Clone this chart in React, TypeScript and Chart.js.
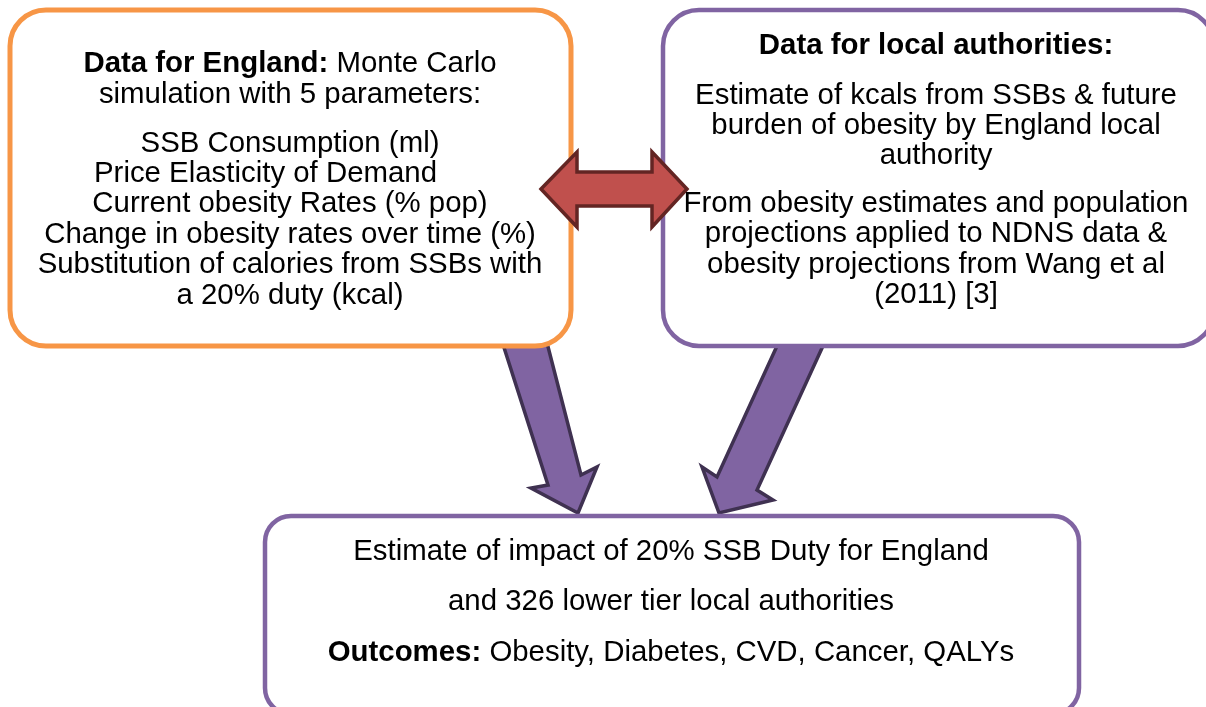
import React, { useEffect, useRef } from "react";
import { Chart, registerables } from "chart.js";

Chart.register(...registerables);

// Diagram content
const leftBoxLines = [
  { bold: "Data for England:", text: " Monte Carlo", y: 64 },
  { bold: "", text: "simulation with 5 parameters:", y: 95 },
  { bold: "", text: "SSB Consumption (ml)", y: 144 },
  { bold: "", text: "Price Elasticity of Demand      ", y: 174 },
  { bold: "", text: "Current obesity Rates (% pop)", y: 204 },
  { bold: "", text: "Change in obesity rates over time (%)", y: 235 },
  { bold: "", text: "Substitution of calories from SSBs with", y: 265 },
  { bold: "", text: "a 20% duty (kcal)", y: 296 },
];
const rightBoxLines = [
  { bold: "Data for local authorities:", text: "", y: 46 },
  { bold: "", text: "Estimate of kcals from SSBs & future", y: 96 },
  { bold: "", text: "burden of obesity by England local", y: 126 },
  { bold: "", text: "authority", y: 156 },
  { bold: "", text: "From obesity estimates and population", y: 204 },
  { bold: "", text: "projections applied to NDNS data &", y: 234 },
  { bold: "", text: "obesity projections from Wang et al", y: 265 },
  { bold: "", text: "(2011) [3]", y: 295 },
];
const bottomBoxLines = [
  { bold: "", text: "Estimate of impact of 20% SSB Duty for England", y: 552 },
  { bold: "", text: "and 326 lower tier local authorities", y: 602 },
  { bold: "Outcomes:", text: " Obesity, Diabetes, CVD, Cancer, QALYs", y: 653 },
];

// Box frames [x1, y1, x2, y2, radius]
const leftBox = [10, 10, 571, 346, 36];
const rightBox = [663, 10, 1214, 346, 36];
const bottomBox = [265, 516, 1079, 714, 26];
const leftBoxCenterX = 290;
const rightBoxCenterX = 936;
const bottomBoxCenterX = 671;

// Arrow polygons (x list, y list)
const dblArrowX = [541, 577, 577, 652, 652, 687, 652, 652, 577, 577];
const dblArrowY = [189, 152, 172, 172, 152, 189, 227, 206, 206, 227];
const downLeftX = [500, 545, 581, 597, 578, 531, 548];
const downLeftY = [335, 335, 475, 467, 513, 488, 485];
const downRightX = [782, 828, 757, 773, 719, 702, 717];
const downRightY = [335, 335, 490, 500, 513, 467, 477];

const FONT = '"Liberation Sans", Arial, sans-serif';
const FONT_SIZE = 29.4;

export default function App() {
  const ref = useRef<HTMLCanvasElement | null>(null);
  useEffect(() => {
    document.body.style.margin = "0";
    const canvas = ref.current!;
    const diagram = {
      id: "diagram",
      afterDraw(chart: any) {
        const ctx = chart.ctx as CanvasRenderingContext2D;
        const xs = chart.scales.x;
        const ys = chart.scales.y;
        const px = (v: number) => xs.getPixelForValue(v);
        const py = (v: number) => ys.getPixelForValue(v);

        const poly = (X: number[], Y: number[], fill: string, stroke: string, lw: number) => {
          ctx.save();
          ctx.beginPath();
          X.forEach((x, i) => {
            if (i === 0) ctx.moveTo(px(x), py(Y[i]));
            else ctx.lineTo(px(x), py(Y[i]));
          });
          ctx.closePath();
          ctx.fillStyle = fill;
          ctx.fill();
          ctx.lineWidth = lw;
          ctx.strokeStyle = stroke;
          ctx.lineJoin = "miter";
          ctx.stroke();
          ctx.restore();
        };
        const box = (b: number[], stroke: string, lw: number) => {
          const x1 = px(b[0]), y1 = py(b[1]), x2 = px(b[2]), y2 = py(b[3]);
          const r = b[4];
          ctx.save();
          ctx.beginPath();
          ctx.roundRect(x1, y1, x2 - x1, y2 - y1, r);
          ctx.fillStyle = "#ffffff";
          ctx.fill();
          ctx.lineWidth = lw;
          ctx.strokeStyle = stroke;
          ctx.stroke();
          ctx.restore();
        };
        const lines = (L: { bold: string; text: string; y: number }[], cx: number) => {
          L.forEach((l) => {
            ctx.save();
            ctx.fillStyle = "#000000";
            ctx.textBaseline = "middle";
            ctx.textAlign = "left";
            ctx.font = `bold ${FONT_SIZE}px ${FONT}`;
            const wb = l.bold ? ctx.measureText(l.bold).width : 0;
            ctx.font = `${FONT_SIZE}px ${FONT}`;
            const wt = l.text ? ctx.measureText(l.text).width : 0;
            let x = px(cx) - (wb + wt) / 2;
            const y = py(l.y);
            if (l.bold) {
              ctx.font = `bold ${FONT_SIZE}px ${FONT}`;
              ctx.fillText(l.bold, x, y);
              x += wb;
            }
            if (l.text) {
              ctx.font = `${FONT_SIZE}px ${FONT}`;
              ctx.fillText(l.text, x, y);
            }
            ctx.restore();
          });
        };

        poly(downLeftX, downLeftY, "#8064A2", "#3F3151", 3.5);
        poly(downRightX, downRightY, "#8064A2", "#3F3151", 3.5);
        box(leftBox, "#F79646", 5);
        box(rightBox, "#8064A2", 4.5);
        box(bottomBox, "#8064A2", 4.5);
        poly(dblArrowX, dblArrowY, "#C0504D", "#632523", 3.5);
        lines(leftBoxLines, leftBoxCenterX);
        lines(rightBoxLines, rightBoxCenterX);
        lines(bottomBoxLines, bottomBoxCenterX);
      },
    };
    const chart = new Chart(canvas, {
      type: "scatter",
      data: { datasets: [{ data: [], pointRadius: 0 }] },
      options: {
        animation: false,
        responsive: false,
        maintainAspectRatio: false,
        layout: { padding: 0 },
        plugins: { legend: { display: false }, tooltip: { enabled: false } },
        scales: {
          x: { type: "linear", min: 0, max: 1206, display: false },
          y: { type: "linear", min: 0, max: 707, reverse: true, display: false },
        },
      },
      plugins: [diagram],
    });
    return () => chart.destroy();
  }, []);
  return (
    <div style={{ position: "absolute", left: 0, top: 0, width: 1206, height: 707, background: "#fff" }}>
      <canvas ref={ref} width={1206} height={707} style={{ width: 1206, height: 707 }} />
    </div>
  );
}
